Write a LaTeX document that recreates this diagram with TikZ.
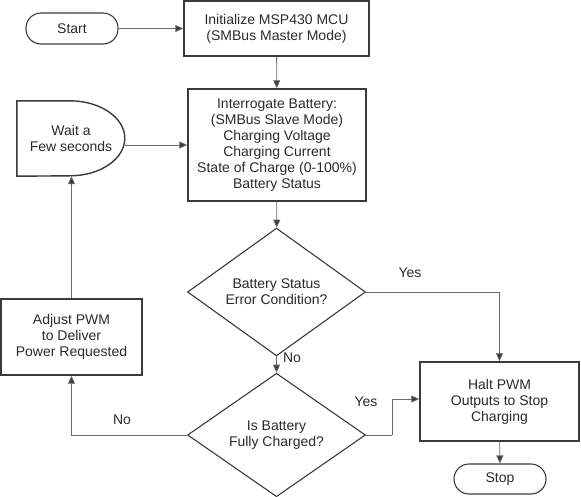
\documentclass[tikz,border=0pt]{standalone}
\usepackage{fontspec}
\setmainfont{Liberation Sans}
\usepackage{tikz}
\usetikzlibrary{positioning, arrows.meta, shapes.geometric, calc}

\definecolor{boxline}{HTML}{3A3A3A}
\definecolor{wireline}{HTML}{6A6A6A}
\definecolor{boxtext}{HTML}{2A2A2A}

\def\tikflow{%
    % look of the boxes and wires
    \tikzset{
        every node/.style={font=\fontsize{14}{16}\selectfont, text=boxtext, align=center},
        procbox/.style={draw=boxline, line width=1.4pt, rectangle, inner sep=0pt},
        termbox/.style={draw=boxline, line width=1.1pt, rectangle, rounded corners=15pt, inner sep=0pt},
        decbox/.style={draw=boxline, line width=1.1pt, diamond, inner sep=0pt, minimum width=178pt, minimum height=120pt},
        wire/.style={draw=wireline, line width=0.8pt, -{Triangle[length=8pt, width=7pt, fill=boxline]}},
        plainwire/.style={draw=wireline, line width=0.8pt},
        edgelabel/.style={inner sep=0pt}
    }
}

\begin{document}
\begin{tikzpicture}[x=1pt, y=-1pt]
    \tikflow
    \useasboundingbox (0,0) rectangle (581,496);

    % nodes
    \node[termbox, minimum width=92pt, minimum height=31pt] (start) at (72,28.5) {Start};
    \node[procbox, minimum width=185pt, minimum height=55pt] (init) at (276.5,28.5) {Initialize MSP430 MCU\\(SMBus Master Mode)};
    \node[procbox, minimum width=178pt, minimum height=112pt] (interrog) at (277,145)
        {Interrogate Battery:\\(SMBus Slave Mode)\\Charging Voltage\\Charging Current\\State of Charge (0-100\%)\\Battery Status};
    \node[minimum width=108pt, minimum height=75pt, inner sep=0pt] (wait) at (71,138.5) {Wait a\\Few seconds};
    \node[decbox] (errchk) at (276.5,292) {Battery Status\\Error Condition?};
    \node[decbox] (fullchk) at (276.5,435) {Is Battery\\Fully Charged?};
    \node[procbox, minimum width=141pt, minimum height=76pt] (adjust) at (71.5,337) {Adjust PWM\\to Deliver\\Power Requested};
    \node[procbox, minimum width=159pt, minimum height=79pt] (halt) at (499.5,401.5) {Halt PWM\\Outputs to Stop\\Charging};
    \node[termbox, minimum width=92pt, minimum height=30pt] (stop) at (500,479) {Stop};

    % delay shape round the wait node
    \draw[draw=boxline, line width=1.4pt]
        (wait.north west) -- ++(53,0)
        arc[start angle=-90, end angle=90, x radius=55, y radius=37.5]
        -- (wait.south west) -- cycle;

    % straight wires
    \foreach \from/\to in {start/init, init/interrog, interrog/errchk, errchk/fullchk, halt/stop}
    {
        \path[wire] (\from) -- (\to);
    }

    % remaining wires
    \path[wire] (wait.east |- interrog.west) -- (interrog.west);
    \path[wire] (adjust.north) -- (adjust.north |- wait.south);
    \path[wire] (fullchk.west) -| (adjust.south);
    \path[wire] (errchk.east) -| (halt.north);
    \coordinate (bend) at ($(fullchk.east)+(26,0)$);
    \path[plainwire] (fullchk.east) -- (bend);
    \path[wire] (bend) |- ($(halt.west)+(0,-2.5)$);

    % labels
    \node[edgelabel] (yes1) at (410,273) {Yes};
    \node[edgelabel] (no1) at (292,358) {No};
    \node[edgelabel] (yes2) at (366,402) {Yes};
    \node[edgelabel] (no2) at (122,420) {No};
\end{tikzpicture}
\end{document}
